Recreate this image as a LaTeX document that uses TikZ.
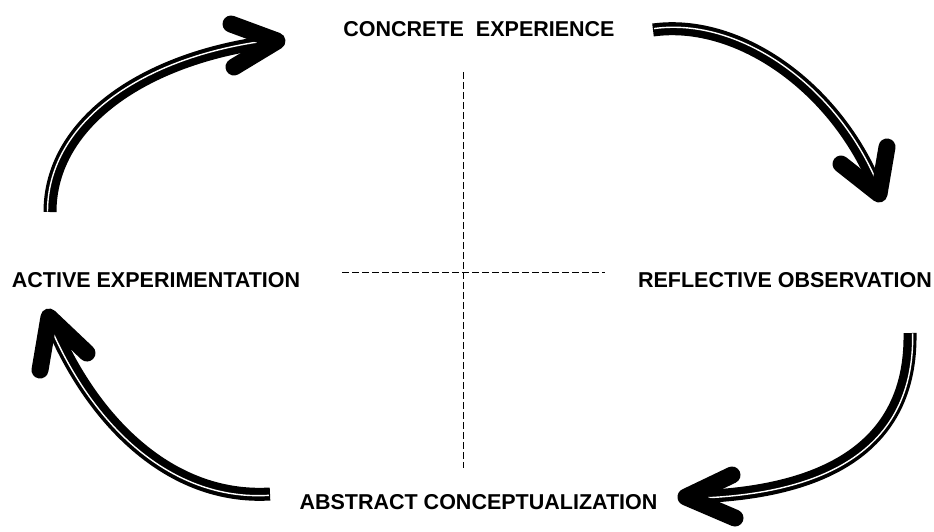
\documentclass[tikz,border=0pt]{standalone}
\usepackage{fontspec}
\setmainfont{Liberation Sans}
\usetikzlibrary{calc}

% Curved cycle arrow: start, two control points, tip, two arm ends
\newcommand\cyclearrow[6]{%
  \draw[shaft] #1 .. controls #2 and #3 .. #4;
  \begin{scope}[scale around={1.006:(466,270)}]
    \draw[gleam] #1 .. controls #2 and #3 .. #4;
  \end{scope}
  \draw[head] #5 -- #4 -- #6;
}

\begin{document}
\begin{tikzpicture}[x=1pt,y=-1pt,
  stage/.style={font=\fontsize{21.5}{24}\selectfont\bfseries, inner sep=0pt, anchor=base},
  shaft/.style={black, line width=13pt, line cap=butt},
  gleam/.style={white, line width=1.4pt, line cap=butt},
  head/.style={black, line width=17pt, line cap=round, line join=round},
  axis/.style={black, line width=0.8pt, dash pattern=on 7pt off 3pt}]

  \fill[white] (0,0) rectangle (934,531);
  \useasboundingbox (0,0) rectangle (934,531);

  % the four stages
  \node[stage] (ce) at (479,36.5) {CONCRETE\ \ EXPERIENCE};
  \node[stage] (ro) at (785,287) {REFLECTIVE OBSERVATION};
  \node[stage] (ac) at (478.5,509) {ABSTRACT CONCEPTUALIZATION};
  \node[stage] (ae) at (156,287) {ACTIVE EXPERIMENTATION};

  % dashed axes
  \coordinate (vtop) at (463,72);
  \coordinate (vbot) at (463,468);
  \coordinate (hleft) at (342,272);
  \coordinate (hright) at (605,272);
  \draw[axis] (vtop) -- (vbot);
  \draw[axis] (hleft) -- (hright);

  % cycle arrows
  \cyclearrow{(50,212)}{(50,120)}{(150,55)}{(277,41)}{(231,24)}{(234,67)}
  \cyclearrow{(653,30)}{(740,18)}{(840,90)}{(879,194)}{(841,164)}{(887,147)}
  \cyclearrow{(910,333)}{(912,450)}{(820,495)}{(686,497)}{(732,475)}{(735,518)}
  \cyclearrow{(270,494)}{(170,500)}{(90,420)}{(49,317)}{(87,353)}{(40,370)}
\end{tikzpicture}
\end{document}
